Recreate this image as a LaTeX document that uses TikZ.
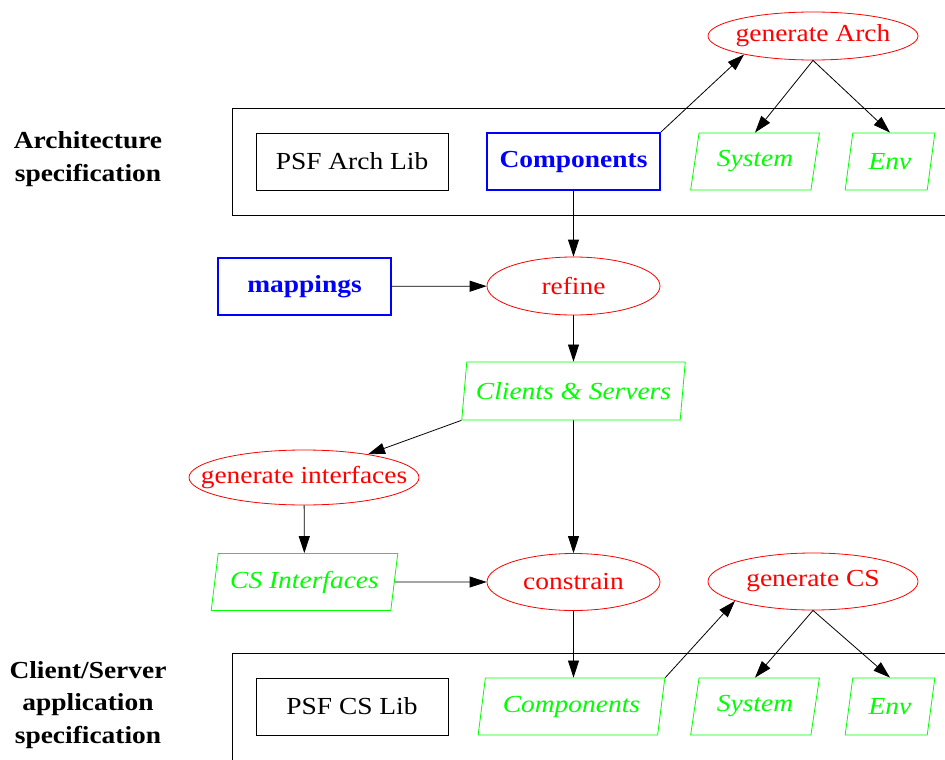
\documentclass[tikz,border=0pt]{standalone}
\usepackage{fontspec}
\setmainfont{Liberation Serif}[FakeStretch=1.12]
\usepackage{tikz}
\usetikzlibrary{positioning,arrows.meta,shapes.geometric}

\tikzset{
  proc/.style={ellipse, draw=red, inner sep=0pt, line width=0.8pt},
  lib/.style={rectangle, draw, line width=0.8pt, minimum width=192pt, minimum height=57pt},
  spec/.style={rectangle, draw=blue, text=blue, line width=2.2pt, font=\bfseries,
    minimum width=173pt, minimum height=57pt},
  data/.style={trapezium, trapezium left angle=75, trapezium right angle=105,
    trapezium stretches=true, draw=green, text=green, font=\itshape,
    line width=0.8pt, inner sep=0pt},
  flow/.style={-{Triangle[length=17pt,width=11pt]}, line width=0.8pt},
  side/.style={font=\bfseries, align=center}
}

\begin{document}
\fontsize{24.5}{32.5}\selectfont
\begin{tikzpicture}[x=1pt,y=-1pt]
    \useasboundingbox (0,0) rectangle (945,760);

    % specification frames
    \draw[line width=0.8pt] (960,108) -- (232,108) -- (232,215) -- (960,215);
    \draw[line width=0.8pt] (960,653) -- (232,653) -- (232,780);

    \node[side] (archlbl) at (88,159) {Architecture\\specification};
    \node[side] (cslbl) at (88,705) {Client/Server\\application\\specification};

    % architecture level
    \node[proc, minimum width=210pt, minimum height=48pt,
      label={[red]center:generate Arch}] (genarch) at (813,36) {};
    \node[lib] (archlib) at (352,161.5) {PSF Arch Lib};
    \node[spec] (archcomp) at (573.5,161.5) {Components};
    \node[data, minimum width=130pt, minimum height=57pt] (archsys) at (755,161.5) {System};
    \node[data, minimum width=90pt, minimum height=57pt] (archenv) at (890,161.5) {Env};

    % refinement
    \node[spec] (maps) at (304.5,286.5) {mappings};
    \node[proc, minimum width=173pt, minimum height=58pt,
      label={[red]center:refine}] (refine) at (573.5,286) {};
    \node[data, minimum width=224pt, minimum height=58pt] (clserv) at (573.5,391) {Clients \& Servers};
    \node[proc, minimum width=230pt, minimum height=55pt,
      label={[red]center:generate interfaces}] (genif) at (304,477.5) {};
    \node[data, minimum width=187pt, minimum height=57pt] (csif) at (304.5,582) {CS Interfaces};
    \node[proc, minimum width=173pt, minimum height=57pt,
      label={[red]center:constrain}] (constrain) at (573.5,582) {};
    \node[proc, minimum width=210pt, minimum height=57pt,
      label={[red]center:generate CS}] (gencs) at (813,581.5) {};

    % client/server level
    \node[lib] (cslib) at (352,706.5) {PSF CS Lib};
    \node[data, minimum width=187pt, minimum height=57pt] (cscomp) at (571.5,706.5) {Components};
    \node[data, minimum width=130pt, minimum height=57pt] (cssys) at (755,706.5) {System};
    \node[data, minimum width=90pt, minimum height=57pt] (csenv) at (890,706.5) {Env};

    % connectors
    \draw[flow] (archcomp.north east) -- (genarch.195);
    \draw[flow] (genarch.south) -- (archsys.north);
    \draw[flow] (genarch.south) -- (archenv.north);
    \draw[flow] (archcomp) -- (refine);
    \draw[flow] (maps) -- (refine);
    \draw[flow] (refine) -- (clserv);
    \draw[flow] (clserv.bottom left corner) -- (genif);
    \draw[flow] (genif) -- (csif);
    \draw[flow] (clserv) -- (constrain);
    \draw[flow] (csif.east) -- (constrain.west);
    \draw[flow] (constrain.south) -- (constrain.south |- cscomp.north);
    \draw[flow] (cscomp.top right corner) -- (gencs.194);
    \draw[flow] (gencs.south) -- (cssys.north);
    \draw[flow] (gencs.south) -- (csenv.north);
\end{tikzpicture}
\end{document}
